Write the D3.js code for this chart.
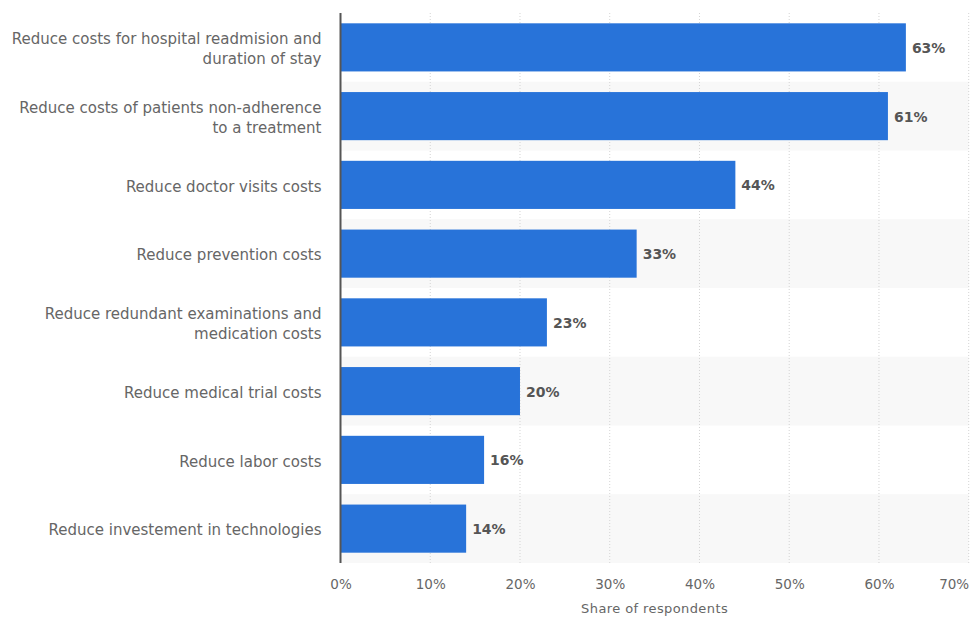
<!DOCTYPE html>
<html>
<head>
<meta charset="utf-8">
<script src="https://cdn.jsdelivr.net/npm/d3@7/dist/d3.min.js"></script>
<style>
  html, body { margin: 0; padding: 0; background: #fff; }
  svg { display: block; }
  text { font-family: "DejaVu Sans", "Noto Sans", sans-serif; }
</style>
</head>
<body>
<svg id="chart" width="971" height="617"></svg>
<script>
// Cost-reduction goals, share of respondents (%)
const categories = [
  "Reduce costs for hospital readmision and\nduration of stay",
  "Reduce costs of patients non-adherence\nto a treatment",
  "Reduce doctor visits costs",
  "Reduce prevention costs",
  "Reduce redundant examinations and\nmedication costs",
  "Reduce medical trial costs",
  "Reduce labor costs",
  "Reduce investement in technologies"
];
const values = [63, 61, 44, 33, 23, 20, 16, 14];
const xTicks = [0, 10, 20, 30, 40, 50, 60, 70];
const xTitle = "Share of respondents";

const svg = d3.select("#chart");
const plotLeft = 340.5, plotRight = 968.7, plotTop = 13, plotBottom = 563;

const x = d3.scaleLinear().domain([0, 70]).range([plotLeft, plotRight]);
const y = d3.scaleBand().domain(categories).range([plotTop, plotBottom])
  .paddingInner(0.3).paddingOuter(0.15);
const step = y.step();

// alternating row shading
svg.append("g").selectAll("rect")
  .data(categories.filter((d, i) => i % 2 === 1))
  .join("rect")
  .attr("x", plotLeft)
  .attr("y", d => y(d) - y.paddingOuter() * step)
  .attr("width", plotRight - plotLeft)
  .attr("height", step)
  .attr("fill", "#f8f8f8");

// dotted vertical grid
svg.append("g").selectAll("line")
  .data(xTicks.filter(t => t > 0))
  .join("line")
  .attr("x1", d => x(d)).attr("x2", d => x(d))
  .attr("y1", plotTop).attr("y2", plotBottom)
  .attr("stroke", "#d4d4d4")
  .attr("stroke-width", 1)
  .attr("stroke-dasharray", "1,2");

// bars
svg.append("g").selectAll("rect")
  .data(values)
  .join("rect")
  .attr("x", x(0))
  .attr("y", (d, i) => y(categories[i]))
  .attr("width", d => x(d) - x(0))
  .attr("height", y.bandwidth())
  .attr("fill", "#2873d9");

// value labels
svg.append("g").selectAll("text")
  .data(values)
  .join("text")
  .attr("x", d => x(d) + 6)
  .attr("y", (d, i) => y(categories[i]) + y.bandwidth() / 2)
  .attr("dy", "0.4em")
  .attr("font-size", 14)
  .attr("font-weight", "bold")
  .attr("fill", "#555")
  .text(d => d + "%");

// baseline axis
svg.append("line")
  .attr("x1", plotLeft).attr("x2", plotLeft)
  .attr("y1", plotTop).attr("y2", plotBottom)
  .attr("stroke", "#555")
  .attr("stroke-width", 2);

// category labels
const catG = svg.append("g");
categories.forEach(c => {
  const lines = c.split("\n");
  const cy = y(c) + y.bandwidth() / 2;
  const lh = 20;
  const t = catG.append("text")
    .attr("text-anchor", "end")
    .attr("font-size", 15)
    .attr("fill", "#666");
  lines.forEach((ln, j) => {
    t.append("tspan")
      .attr("x", plotLeft - 19)
      .attr("y", cy + (j - (lines.length - 1) / 2) * lh + 1)
      .attr("dy", "0.38em")
      .text(ln);
  });
});

// x axis tick labels; the last one is kept inside the chart edge
const axis = d3.axisBottom(x).tickValues(xTicks).tickFormat(d => d + "%").tickSize(0).tickPadding(0);
const ax = svg.append("g").attr("transform", "translate(0, 579)").call(axis);
ax.select(".domain").remove();
ax.selectAll("text")
  .attr("font-size", 13.5)
  .attr("fill", "#666")
  .attr("font-family", "DejaVu Sans, sans-serif")
  .attr("text-anchor", d => d === xTicks[xTicks.length - 1] ? "end" : "middle");

// axis title
svg.append("text")
  .attr("x", (plotLeft + plotRight) / 2)
  .attr("y", 608)
  .attr("dy", "0.35em")
  .attr("text-anchor", "middle")
  .attr("font-size", 13)
  .attr("letter-spacing", 0.4)
  .attr("fill", "#666")
  .text(xTitle);
</script>
</body>
</html>
